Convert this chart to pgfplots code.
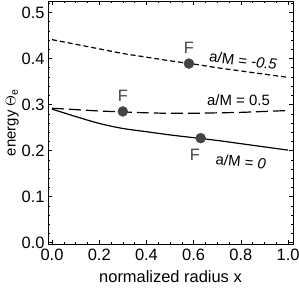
\documentclass[border=0pt]{standalone}
\usepackage{fontspec}
\setmainfont{Liberation Sans}
\usepackage{pgfplots}
\pgfplotsset{compat=1.18}
\definecolor{ptgray}{HTML}{444444}
\begin{document}
\begin{tikzpicture}
\begin{axis}[
  scale only axis, width=245bp, height=243bp,
  xmin=-0.017, xmax=1.021, ymin=-0.003, ymax=0.525,
  xtick={0,0.2,...,1.0}, ytick={0,0.1,...,0.5},
  minor xtick={0.05,0.1,0.15,0.25,0.3,0.35,0.45,0.5,0.55,0.65,0.7,0.75,0.85,0.9,0.95},
  minor ytick={0.02,0.04,0.06,0.08,0.12,0.14,0.16,0.18,0.22,0.24,0.26,0.28,0.32,0.34,0.36,0.38,0.42,0.44,0.46,0.48,0.52},
  tick align=inside, major tick length=4bp, minor tick length=2.5bp,
  xticklabel style={/pgf/number format/fixed,/pgf/number format/fixed zerofill,/pgf/number format/precision=1, yshift=-2bp},
  yticklabel style={/pgf/number format/fixed,/pgf/number format/fixed zerofill,/pgf/number format/precision=1, xshift=0bp},
  /pgf/number format/assume math mode=true,
  tick label style={font=\fontsize{16.5}{16.5}\selectfont},
  xlabel style={font=\fontsize{16.5}{16.5}\selectfont, yshift=-3bp},
  ylabel style={font=\fontsize{15}{15}\selectfont, yshift=-4bp},
  xlabel={normalized radius x},
  ylabel={energy $\Theta_{\mathrm{e}}$},
  axis line style={line width=0.6bp},
  every tick/.style={black, line width=0.5bp},
]
\addplot[black, line width=1.2bp, smooth] coordinates {
(0,0.290) (0.05,0.282) (0.1,0.274) (0.2,0.259) (0.3,0.248) (0.4,0.241) (0.5,0.234) (0.6,0.228) (0.7,0.222) (0.8,0.215) (0.9,0.208) (1.0,0.201)};
\addplot[black, line width=1.2bp, dash pattern=on 12bp off 5bp, smooth] coordinates {
(0,0.292) (0.1,0.289) (0.2,0.286) (0.3,0.284) (0.4,0.282) (0.5,0.281) (0.6,0.281) (0.7,0.282) (0.8,0.283) (0.9,0.285) (1.0,0.287)};
\addplot[black, line width=1.2bp, dash pattern=on 5bp off 3bp, smooth] coordinates {
(0,0.441) (0.1,0.431) (0.2,0.421) (0.3,0.411) (0.4,0.403) (0.5,0.395) (0.6,0.388) (0.7,0.380) (0.8,0.373) (0.9,0.366) (1.0,0.359)};
\addplot[only marks, mark=*, mark size=5bp, ptgray] coordinates {(0.63,0.227) (0.30,0.285) (0.58,0.389)};
\node[font=\fontsize{16.5}{16.5}\selectfont, text=ptgray] at (axis cs:0.58,0.424) {F};
\node[font=\fontsize{16.5}{16.5}\selectfont, text=ptgray] at (axis cs:0.30,0.318) {F};
\node[font=\fontsize{16.5}{16.5}\selectfont, text=ptgray] at (axis cs:0.605,0.190) {F};
\node[font=\fontsize{15}{15}\selectfont, rotate=-7] at (axis cs:0.81,0.396) {a/M = \textit{-0.5}};
\node[font=\fontsize{15}{15}\selectfont] at (axis cs:0.79,0.310) {a/M = 0.5};
\node[font=\fontsize{15}{15}\selectfont, rotate=-5] at (axis cs:0.80,0.176) {a/M = \textit{0}};
\end{axis}
\pgfresetboundingbox
\path[use as bounding box] ([shift={(-48bp,-44bp)}]current axis.south west) rectangle ([shift={(6bp,1bp)}]current axis.north east);
\end{tikzpicture}
\end{document}
